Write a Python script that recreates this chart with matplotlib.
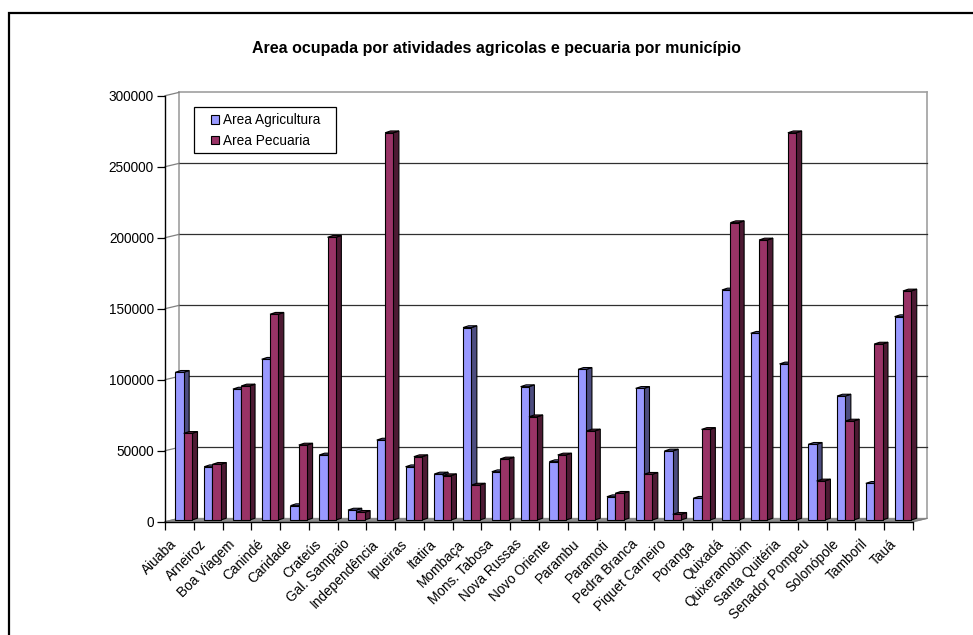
import matplotlib
matplotlib.use("Agg")
import matplotlib.pyplot as plt
from matplotlib.patches import Polygon, Rectangle, Patch

plt.rcParams['font.family'] = ['Liberation Sans', 'DejaVu Sans']

# dados
municipios = ["Aiuaba", "Arneiroz", "Boa Viagem", "Canindé", "Caridade", "Crateús",
              "Gal. Sampaio", "Independência", "Ipueiras", "Itatira", "Mombaça",
              "Mons. Tabosa", "Nova Russas", "Novo Oriente", "Parambu", "Paramoti",
              "Pedra Branca", "Piquet Carneiro", "Poranga", "Quixadá", "Quixeramobim",
              "Santa Quitéria", "Senador Pompeu", "Solonópole", "Tamboril", "Tauá"]
area_agricultura = [104000, 37500, 92200, 113200, 10100, 45800, 7000, 56300, 37500,
                    32400, 135500, 34000, 93900, 41100, 106100, 16400, 92700, 48600,
                    15300, 162000, 131500, 109900, 53300, 87300, 25800, 143200]
area_pecuaria = [61000, 39200, 94400, 144900, 52800, 199100, 5400, 272700, 44600,
                 31200, 24600, 43000, 72700, 45800, 62700, 18800, 32200, 4000,
                 63800, 209400, 197200, 272700, 27500, 69700, 123900, 161300]
yticks = [0, 50000, 100000, 150000, 200000, 250000, 300000]

W, H = 973, 635
fs = 9.8
fig = plt.figure(figsize=(W / 100, H / 100), dpi=100)

# moldura (so esquerda e topo aparecem)
fig.patches.append(Rectangle((9 / W, -0.1), 1.2, (H - 13) / H + 0.1, transform=fig.transFigure,
                             fill=False, edgecolor='black', linewidth=1.6))

x0, x1, y0, y1 = 165, 913, 521.7, 95.7
ax = fig.add_axes([x0 / W, (H - y0) / H, (x1 - x0) / W, (y0 - y1) / H])
n = len(municipios)
ymax = 300000
ax.set_xlim(0, n)
ax.set_ylim(0, ymax)
for s in ax.spines.values():
    s.set_visible(False)

pxx = (x1 - x0) / n
pxy = (y0 - y1) / ymax
# deslocamento 3D da parede do fundo
dx = 14 / pxx
dy = 3.3 / pxy

# chao
ax.add_patch(Polygon([(0, 0), (n, 0), (n + dx, dy), (dx, dy)], closed=True,
                     facecolor='#8c8c8c', edgecolor='#8c8c8c', lw=0.8, clip_on=False, zorder=1))
# parede do fundo
ax.plot([dx, dx], [dy, ymax + dy], color='#a0a0a0', lw=1.2, clip_on=False, zorder=1)
ax.plot([n + dx, n + dx], [dy, ymax + dy], color='#a0a0a0', lw=1.2, clip_on=False, zorder=1)
ax.plot([dx, n + dx], [ymax + dy, ymax + dy], color='#a0a0a0', lw=1.2, clip_on=False, zorder=1)
for v in yticks[1:-1]:
    ax.plot([dx, n + dx], [v + dy, v + dy], color='#303030', lw=0.9, clip_on=False, zorder=1)
for v in yticks:
    ax.plot([0, dx], [v, v + dy], color='#808080', lw=0.9, clip_on=False, zorder=1)

# eixos frontais
ax.plot([0, 0], [0, ymax], color='black', lw=1.0, clip_on=False, zorder=6)
ax.plot([0, n], [0, 0], color='black', lw=1.0, clip_on=False, zorder=6)
ax.plot([n, n + dx], [0, dy], color='#808080', lw=0.9, clip_on=False, zorder=1)

ax.set_yticks(yticks)
ax.set_yticklabels([str(v) for v in yticks], fontsize=fs)
ax.tick_params(axis='y', length=6, width=0.9, pad=2)
ax.set_xticks(range(n + 1))
ax.set_xticklabels([])
ax.tick_params(axis='x', which='major', length=6, width=0.9, direction='out')
ax.set_xticks([i + 0.17 for i in range(n)], minor=True)
ax.set_xticklabels(municipios, minor=True, rotation=45, ha='right', va='top',
                   rotation_mode='anchor', fontsize=fs)
ax.tick_params(axis='x', which='minor', length=0, pad=11)

# barras 3D
bw = 0.29
ddx = 0.19
ddy = 1.8 / pxy
base = 1.7 / pxy
series = [(area_agricultura, 0.36, '#9999ff', '#4d4d80', '#6b6bb3'),
          (area_pecuaria, 0.65, '#993366', '#4d1a33', '#6b2447')]
for i in range(n):
    for vals, off, cfront, cside, ctop in series:
        v = vals[i]
        xl = i + off
        xr = xl + bw
        yb = base
        yt = base + v
        ax.add_patch(Polygon([(xr, yb), (xr + ddx, yb + ddy), (xr + ddx, yt + ddy), (xr, yt)],
                             closed=True, facecolor=cside, edgecolor='black', lw=0.8,
                             clip_on=False, zorder=3))
        ax.add_patch(Polygon([(xl, yt), (xr, yt), (xr + ddx, yt + ddy), (xl + ddx, yt + ddy)],
                             closed=True, facecolor=ctop, edgecolor='black', lw=0.8,
                             clip_on=False, zorder=3))
        ax.add_patch(Rectangle((xl, yb), bw, v, facecolor=cfront, edgecolor='black', lw=0.8,
                               clip_on=False, zorder=3))

fig.text(496 / W, 1 - 48 / H, "Area ocupada por atividades agricolas e pecuaria por município",
         ha='center', va='center', fontsize=11.5, fontweight='bold')

# legenda: moldura desenhada a parte
fig.patches.append(Rectangle((194 / W, 1 - 153 / H), 142 / W, 46 / H, transform=fig.transFigure,
                             facecolor='white', edgecolor='black', linewidth=0.9, zorder=9))
handles = [Patch(facecolor='#9999ff', edgecolor='black', lw=0.8, label='Area Agricultura'),
           Patch(facecolor='#993366', edgecolor='black', lw=0.8, label='Area Pecuaria')]
leg = fig.legend(handles=handles, loc='center left', bbox_to_anchor=(211 / W, 1 - 130.5 / H),
                 bbox_transform=fig.transFigure, fontsize=fs, frameon=False,
                 handlelength=0.6, handleheight=0.6, handletextpad=0.3,
                 labelspacing=0.5, borderpad=0, borderaxespad=0)
leg.set_zorder(10)

fig.savefig("out.png", dpi=100)
